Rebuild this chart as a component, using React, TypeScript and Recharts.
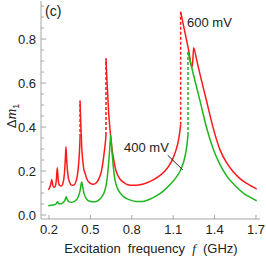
import { LineChart, Line, XAxis, YAxis, ReferenceLine } from 'recharts'

// frequency f (GHz), Δm1, one array per drawn branch
const red600Low: [number, number][] = [
  [0.195, 0.115], [0.205, 0.125], [0.213, 0.14], [0.22, 0.162], [0.227, 0.138], [0.235, 0.125],
  [0.245, 0.13], [0.253, 0.158], [0.26, 0.215], [0.267, 0.158], [0.277, 0.135], [0.29, 0.132],
  [0.3, 0.142], [0.31, 0.178], [0.318, 0.25], [0.323, 0.31], [0.329, 0.24], [0.338, 0.178],
  [0.35, 0.148], [0.365, 0.135], [0.38, 0.136], [0.395, 0.152], [0.405, 0.178], [0.413, 0.22],
  [0.419, 0.27], [0.423, 0.32], [0.425, 0.355],
]
const red600Mid: [number, number][] = [
  [0.425, 0.52], [0.429, 0.44], [0.433, 0.37], [0.437, 0.31], [0.444, 0.25], [0.452, 0.21],
  [0.461, 0.19], [0.475, 0.163], [0.497, 0.145], [0.52, 0.14], [0.545, 0.148], [0.565, 0.17],
  [0.58, 0.2], [0.593, 0.25], [0.603, 0.3], [0.61, 0.34], [0.613, 0.364],
]
const red600High: [number, number][] = [
  [0.613, 0.712], [0.618, 0.64], [0.625, 0.55], [0.633, 0.46], [0.642, 0.39], [0.655, 0.31],
  [0.668, 0.255], [0.678, 0.22], [0.695, 0.185], [0.715, 0.163], [0.738, 0.15], [0.77, 0.138],
  [0.81, 0.135], [0.86, 0.138], [0.91, 0.147], [0.955, 0.16], [1.0, 0.178], [1.04, 0.2],
  [1.07, 0.225], [1.1, 0.26], [1.12, 0.295], [1.135, 0.33], [1.147, 0.375], [1.154, 0.41],
]
const red600Top: [number, number][] = [
  [1.154, 0.924], [1.18, 0.845], [1.21, 0.755], [1.236, 0.672], [1.242, 0.7], [1.248, 0.76],
  [1.27, 0.705], [1.3, 0.625], [1.343, 0.515], [1.39, 0.395], [1.44, 0.295], [1.49, 0.235],
  [1.535, 0.197], [1.58, 0.168], [1.63, 0.145], [1.67, 0.13], [1.705, 0.118],
]
const red600Jumps: [number, number][][] = [
  [[0.425, 0.355], [0.425, 0.52]],
  [[0.613, 0.364], [0.613, 0.712]],
  [[1.154, 0.41], [1.154, 0.924]],
]

const green400Low: [number, number][] = [
  [0.195, 0.042], [0.22, 0.045], [0.245, 0.048], [0.255, 0.053], [0.262, 0.06], [0.27, 0.051],
  [0.285, 0.051], [0.3, 0.056], [0.315, 0.066], [0.325, 0.083], [0.333, 0.07], [0.345, 0.06],
  [0.365, 0.058], [0.39, 0.065], [0.41, 0.08], [0.425, 0.11], [0.437, 0.15], [0.445, 0.125],
  [0.455, 0.095], [0.47, 0.075], [0.495, 0.063], [0.53, 0.06], [0.56, 0.068], [0.585, 0.085],
  [0.606, 0.114], [0.62, 0.16], [0.63, 0.22], [0.64, 0.3], [0.647, 0.364], [0.655, 0.3],
  [0.666, 0.22], [0.678, 0.16], [0.691, 0.13], [0.71, 0.105], [0.738, 0.085], [0.78, 0.07],
  [0.83, 0.062], [0.88, 0.062], [0.93, 0.072], [0.98, 0.088], [1.03, 0.11], [1.08, 0.14],
  [1.12, 0.17], [1.15, 0.2], [1.175, 0.24], [1.19, 0.28], [1.2, 0.32], [1.207, 0.364],
]
const green400Top: [number, number][] = [
  [1.207, 0.742], [1.25, 0.63], [1.294, 0.52], [1.345, 0.39], [1.39, 0.3], [1.44, 0.228],
  [1.49, 0.176], [1.55, 0.133], [1.608, 0.1], [1.66, 0.08], [1.705, 0.065],
]
const green400Jumps: [number, number][][] = [
  [[1.207, 0.364], [1.207, 0.742]],
]

const xTicks = [0.2, 0.5, 0.8, 1.1, 1.4, 1.7]
const yTicks = [0, 0.05, 0.1, 0.15, 0.2, 0.25, 0.3, 0.35, 0.4, 0.45, 0.5, 0.55, 0.6, 0.65, 0.7, 0.75, 0.8, 0.85, 0.9, 0.95]
const xDomain = [0.142, 1.729]
const yDomain = [-0.018, 0.973]
const pointer400 = [{ x: 1.06, y: 0.272 }, { x: 1.17, y: 0.205 }]

const RED = '#ff1a1a'
const GREEN = '#1fb51f'
const FRAME = '#a6a6a6'
const FONT = '"Liberation Sans", Arial, sans-serif'

const pts = (a: [number, number][]) => a.map(([f, v]) => ({ f, v }))

function XTick({ x, y, payload }: any) {
  return (
    <g>
      <line x1={x} x2={x} y1={y} y2={y - 4} stroke={FRAME} />
      <text x={x} y={y + 15} textAnchor="middle" fontSize={13} fontFamily={FONT} fill="#222">
        {payload.value.toFixed(1)}
      </text>
    </g>
  )
}

function YTick({ x, y, payload }: any) {
  const major = Math.abs(payload.value / 0.2 - Math.round(payload.value / 0.2)) < 1e-6
  return (
    <g>
      <line x1={x} x2={x + (major ? 5 : 3)} y1={y} y2={y} stroke={FRAME} />
      {major && (
        <text x={x - 5} y={y + 4.5} textAnchor="end" fontSize={13} fontFamily={FONT} fill="#222">
          {payload.value.toFixed(1)}
        </text>
      )}
    </g>
  )
}

export default function App() {
  const solid = (data: [number, number][], color: string, key: string) => (
    <Line key={key} data={pts(data)} dataKey="v" type="monotone" stroke={color} strokeWidth={1.5}
      dot={false} activeDot={false} isAnimationActive={false} />
  )
  const dashed = (data: [number, number][], color: string, key: string) => (
    <Line key={key} data={pts(data)} dataKey="v" type="linear" stroke={color} strokeWidth={1.5}
      strokeDasharray="3 2" dot={false} activeDot={false} isAnimationActive={false} />
  )
  return (
    <div style={{ position: 'absolute', left: 0, top: 0, width: 266, height: 259 }}>
      <LineChart width={266} height={259} margin={{ top: 1, right: 6, bottom: 0, left: 0 }}>
        <XAxis type="number" dataKey="f" domain={xDomain} ticks={xTicks} interval={0} allowDataOverflow
          height={40} tickSize={0} tickMargin={0} tickLine={false} axisLine={{ stroke: FRAME }} tick={<XTick />} />
        <XAxis xAxisId="top" orientation="top" type="number" domain={xDomain} height={0}
          tick={false} tickLine={false} axisLine={{ stroke: FRAME }} />
        <YAxis type="number" domain={yDomain} ticks={yTicks} interval={0} allowDataOverflow
          width={41} tickSize={0} tickMargin={0} tickLine={false} axisLine={{ stroke: FRAME }} tick={<YTick />} />
        <YAxis yAxisId="right" orientation="right" type="number" domain={yDomain} width={0}
          tick={false} tickLine={false} axisLine={{ stroke: FRAME }} />
        {solid(red600Low, RED, 'r1')}
        {solid(red600Mid, RED, 'r2')}
        {solid(red600High, RED, 'r3')}
        {solid(red600Top, RED, 'r4')}
        {red600Jumps.map((d, i) => dashed(d, RED, 'rj' + i))}
        {solid(green400Low, GREEN, 'g1')}
        {solid(green400Top, GREEN, 'g2')}
        {green400Jumps.map((d, i) => dashed(d, GREEN, 'gj' + i))}
        <ReferenceLine segment={pointer400} stroke="#222" strokeWidth={1} />
      </LineChart>
      <svg width={266} height={259} style={{ position: 'absolute', left: 0, top: 0, pointerEvents: 'none' }}>
        <text x={45} y={16} fontSize={14} fontFamily={FONT} fill="#222">(c)</text>
        <text x={187} y={27} fontSize={13} fontFamily={FONT} fill="#222">600 mV</text>
        <text x={124} y={152} fontSize={13} fontFamily={FONT} fill="#222">400 mV</text>
        <text x={151} y={253} textAnchor="middle" fontSize={13} fontFamily={FONT} fill="#222" style={{ whiteSpace: 'pre' }}>
          {'Excitation  frequency  '}
          <tspan fontFamily='"Liberation Serif", serif' fontStyle="italic">f</tspan>
          {'  (GHz)'}
        </text>
        <text transform="translate(16,116) rotate(-90)" textAnchor="middle" fontSize={13} fontFamily={FONT} fill="#222">
          {'Δ'}
          <tspan fontFamily='"Liberation Serif", serif' fontStyle="italic" fontSize={15}>m</tspan>
          <tspan fontSize={9} dy={3}>1</tspan>
        </text>
      </svg>
    </div>
  )
}
